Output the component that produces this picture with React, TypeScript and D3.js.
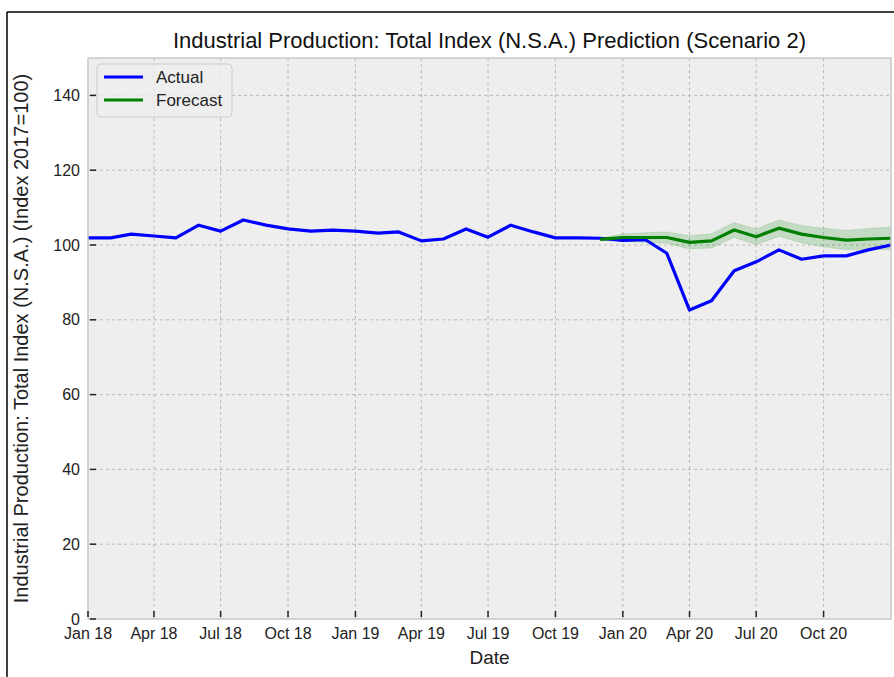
import { scaleLinear, scaleTime, line, area, timeMonth } from "d3";
import { useMemo } from "react";

const WIDTH = 894;
const HEIGHT = 677;

const MARGIN = {
  top: 58,
  right: 3,
  bottom: 58,
  left: 88,
};

const START = new Date(2018, 0, 1);
const END = new Date(2021, 0, 1);
const FORECAST_START = new Date(2019, 11, 1);

const Y_DOMAIN: [number, number] = [0, 150];
const Y_TICKS = [0, 20, 40, 60, 80, 100, 120, 140];

// quarterly tick labels, Jan 18 .. Oct 20
const X_TICK_LABELS = [
  "Jan 18", "Apr 18", "Jul 18", "Oct 18",
  "Jan 19", "Apr 19", "Jul 19", "Oct 19",
  "Jan 20", "Apr 20", "Jul 20", "Oct 20",
];

// monthly values, Jan 2018 .. Jan 2021
const ACTUAL = [
  101.9, 101.9, 102.9, 102.4, 101.9, 105.3, 103.7, 106.7, 105.3, 104.3, 103.7, 104.0,
  103.7, 103.2, 103.5, 101.1, 101.6, 104.3, 102.1, 105.3, 103.5, 101.9, 101.9, 101.8,
  101.2, 101.4, 97.8, 82.6, 85.1, 93.1, 95.5, 98.7, 96.2, 97.1, 97.1, 98.7,
  100.0,
];

// monthly forecast, Dec 2019 .. Jan 2021
const FORECAST = [
  101.5, 102.0, 102.0, 102.0, 100.7, 101.1, 104.0, 102.2, 104.5, 102.9, 102.0, 101.3,
  101.6, 101.8,
];
const FORECAST_LOW = [
  101.2, 101.0, 100.7, 100.5, 98.9, 99.2, 102.0, 100.1, 102.3, 100.6, 99.5, 98.7,
  98.8, 98.8,
];
const FORECAST_HIGH = [
  101.8, 103.0, 103.3, 103.5, 102.5, 103.0, 106.0, 104.3, 106.7, 105.2, 104.5, 103.9,
  104.4, 104.8,
];

type Point = { date: Date; value: number };
type BandPoint = { date: Date; low: number; high: number };

const FONT = "'Liberation Sans', Arial, Helvetica, sans-serif";

export default function App() {
  const innerWidth = WIDTH - MARGIN.left - MARGIN.right;
  const innerHeight = HEIGHT - MARGIN.top - MARGIN.bottom;

  const xScale = useMemo(
    () => scaleTime().domain([START, END]).range([0, innerWidth]),
    [innerWidth]
  );
  const yScale = useMemo(
    () => scaleLinear().domain(Y_DOMAIN).range([innerHeight, 0]),
    [innerHeight]
  );

  const actual: Point[] = ACTUAL.map((value, i) => ({
    date: timeMonth.offset(START, i),
    value,
  }));
  const forecast: Point[] = FORECAST.map((value, i) => ({
    date: timeMonth.offset(FORECAST_START, i),
    value,
  }));
  const band: BandPoint[] = FORECAST_LOW.map((low, i) => ({
    date: timeMonth.offset(FORECAST_START, i),
    low,
    high: FORECAST_HIGH[i],
  }));

  const xTicks = X_TICK_LABELS.map((label, i) => ({
    label,
    date: timeMonth.offset(START, i * 3),
  }));

  const linePath = line<Point>()
    .x(d => xScale(d.date))
    .y(d => yScale(d.value));

  const bandPath =
    area<BandPoint>()
      .x(d => xScale(d.date))
      .y0(d => yScale(d.low))
      .y1(d => yScale(d.high))(band) ?? "";

  return (
    <div style={{ position: "absolute", left: 0, top: 0 }}>
      <svg width={WIDTH} height={HEIGHT} style={{ display: "block" }} fontFamily={FONT}>
        <rect width={WIDTH} height={HEIGHT} fill="white" />

        {/* outer frame */}
        <line x1={7} x2={WIDTH} y1={12} y2={12} stroke="black" strokeWidth={1.5} />
        <line x1={7} x2={7} y1={12} y2={HEIGHT} stroke="black" strokeWidth={1.5} />

        <text
          x={MARGIN.left + innerWidth / 2}
          y={48}
          textAnchor="middle"
          fontSize={22}
          fill="#111"
        >
          Industrial Production: Total Index (N.S.A.) Prediction (Scenario 2)
        </text>

        <g transform={`translate(${MARGIN.left},${MARGIN.top})`}>
          <rect width={innerWidth} height={innerHeight} fill="#eeeeee" />

          {/* GRID */}
          {Y_TICKS.filter(t => t > 0).map(t => (
            <line
              key={`gy${t}`}
              x1={0}
              x2={innerWidth}
              y1={yScale(t)}
              y2={yScale(t)}
              stroke="#b2b2b2"
              strokeDasharray="3,3"
              strokeWidth={0.9}
            />
          ))}
          {xTicks.slice(1).map(t => (
            <line
              key={`gx${t.label}`}
              x1={xScale(t.date)}
              x2={xScale(t.date)}
              y1={0}
              y2={innerHeight}
              stroke="#b2b2b2"
              strokeDasharray="3,3"
              strokeWidth={0.9}
            />
          ))}

          {/* FORECAST BAND */}
          <path d={bandPath} fill="green" fillOpacity={0.18} stroke="green" strokeOpacity={0.12} />

          {/* LINES */}
          <path
            d={linePath(actual) ?? ""}
            fill="none"
            stroke="#0000ff"
            strokeWidth={3.2}
            strokeLinejoin="round"
          />
          <path
            d={linePath(forecast) ?? ""}
            fill="none"
            stroke="#008000"
            strokeWidth={3.2}
            strokeLinejoin="round"
          />

          {/* FRAME */}
          <rect
            width={innerWidth}
            height={innerHeight}
            fill="none"
            stroke="#c8c8c8"
            strokeWidth={1.5}
          />

          {/* Y AXIS */}
          {Y_TICKS.map(t => (
            <g key={`y${t}`} transform={`translate(0,${yScale(t)})`}>
              <line x1={2} x2={8} stroke="#222" strokeWidth={1.5} />
              <text x={-8} dy="0.35em" textAnchor="end" fontSize={16} fill="#222">
                {t}
              </text>
            </g>
          ))}

          {/* X AXIS */}
          {xTicks.map(t => (
            <g key={`x${t.label}`} transform={`translate(${xScale(t.date)},${innerHeight})`}>
              <line y1={-2} y2={-8} stroke="#222" strokeWidth={1.5} />
              <text y={20} textAnchor="middle" fontSize={16} fill="#222">
                {t.label}
              </text>
            </g>
          ))}

          <text
            x={innerWidth / 2}
            y={innerHeight + 45}
            textAnchor="middle"
            fontSize={19}
            fill="#222"
          >
            Date
          </text>

          <text
            transform={`translate(${-60},${innerHeight / 2}) rotate(-90)`}
            textAnchor="middle"
            fontSize={20}
            fill="#222"
          >
            Industrial Production: Total Index (N.S.A.) (Index 2017=100)
          </text>

          {/* LEGEND */}
          <g transform="translate(9,6)">
            <rect
              width={135}
              height={53}
              rx={4}
              fill="#eeeeee"
              fillOpacity={0.8}
              stroke="#cccccc"
            />
            <line x1={7} x2={46} y1={13} y2={13} stroke="#0000ff" strokeWidth={3.2} />
            <text x={59} y={13} dy="0.35em" fontSize={17} fill="#222">
              Actual
            </text>
            <line x1={7} x2={46} y1={36} y2={36} stroke="#008000" strokeWidth={3.2} />
            <text x={59} y={36} dy="0.35em" fontSize={17} fill="#222">
              Forecast
            </text>
          </g>
        </g>
      </svg>
    </div>
  );
}
